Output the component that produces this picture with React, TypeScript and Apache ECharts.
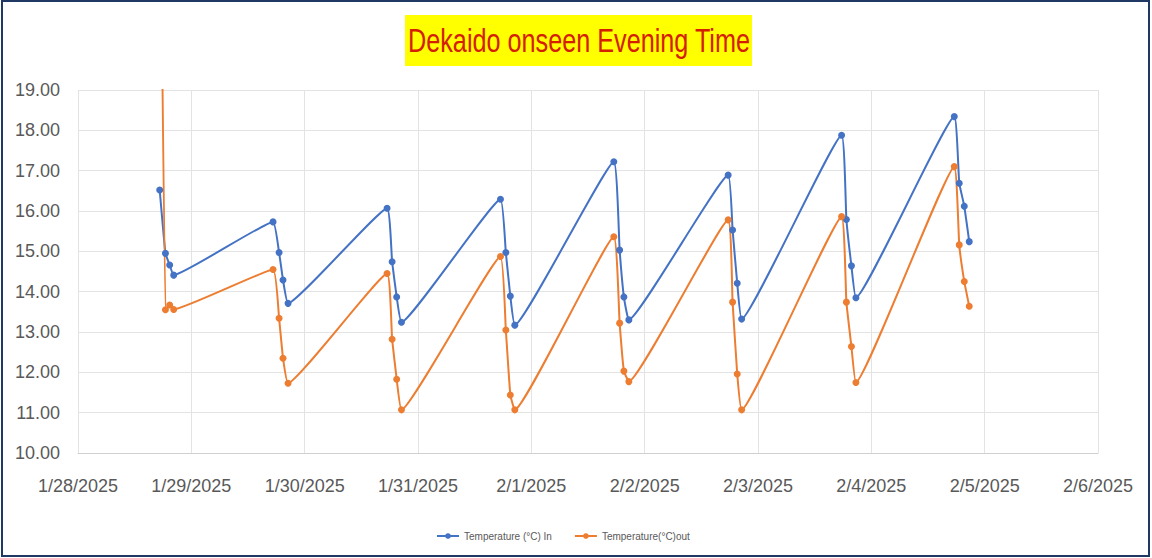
import React, { useEffect, useRef } from "react";
import * as echarts from "echarts";

const titleText = "Dekaido onseen Evening Time";
const seriesNames = ["Temperature (°C) In", "Temperature(°C)out"];

const readingTimes = [
  "2025-01-28T17:18", "2025-01-28T18:31", "2025-01-28T19:25", "2025-01-28T20:16",
  "2025-01-29T17:18", "2025-01-29T18:35", "2025-01-29T19:25", "2025-01-29T20:29",
  "2025-01-30T17:27", "2025-01-30T18:31", "2025-01-30T19:29", "2025-01-30T20:30",
  "2025-01-31T17:28", "2025-01-31T18:36", "2025-01-31T19:33", "2025-01-31T20:30",
  "2025-02-01T17:28", "2025-02-01T18:42", "2025-02-01T19:36", "2025-02-01T20:39",
  "2025-02-02T17:41", "2025-02-02T18:37", "2025-02-02T19:36", "2025-02-02T20:32",
  "2025-02-03T17:42", "2025-02-03T18:43", "2025-02-03T19:47", "2025-02-03T20:44",
  "2025-02-04T17:34", "2025-02-04T18:37", "2025-02-04T19:41", "2025-02-04T20:44",
];

const tempIn = [
  16.52, 14.95, 14.66, 14.41,
  15.73, 14.97, 14.29, 13.71,
  16.07, 14.74, 13.87, 13.24,
  16.29, 14.97, 13.89, 13.17,
  17.22, 15.03, 13.87, 13.30,
  16.89, 15.53, 14.21, 13.32,
  17.88, 15.79, 14.64, 13.85,
  18.34, 16.69, 16.12, 15.24,
];

const tempOut = [
  26.0, 13.55, 13.67, 13.56,
  14.55, 13.34, 12.35, 11.73,
  14.45, 12.82, 11.83, 11.07,
  14.87, 13.05, 11.44, 11.07,
  15.36, 13.22, 12.03, 11.77,
  15.78, 13.74, 11.96, 11.07,
  15.86, 13.74, 12.64, 11.75,
  17.10, 15.16, 14.25, 13.64,
];

const axisStart = "2025-01-28T00:00";
const axisEnd = "2025-02-06T00:00";
const yMin = 10;
const yMax = 19;

const DAY = 86400000;
const toMs = (s: string) => Date.parse(s + ":00Z");

export default function App() {
  const ref = useRef<HTMLDivElement>(null);

  useEffect(() => {
    document.body.style.margin = "0";
    if (!ref.current) return;
    const chart = echarts.init(ref.current, null, { renderer: "svg" });
    const xs = readingTimes.map(toMs);
    const font = "Liberation Sans";

    const lineSeries = (name: string, color: string, vals: number[]) => ({
      name,
      type: "line",
      smooth: 0.1,
      symbol: "circle",
      symbolSize: 7,
      clip: true,
      color,
      lineStyle: { width: 2, color },
      itemStyle: { color },
      data: xs.map((x, i) => [x, vals[i]]),
    });

    chart.setOption({
      animation: false,
      backgroundColor: "#ffffff",
      textStyle: { fontFamily: font },
      grid: { left: 78, right: 54, top: 90, bottom: 105, containLabel: false },
      graphic: [
        {
          type: "rect",
          shape: { x: 2, y: 1, width: 1147, height: 555 },
          style: { fill: "none", stroke: "#1F3864", lineWidth: 2 },
          silent: true,
        },
        {
          type: "rect",
          shape: { x: 405, y: 15, width: 347, height: 51 },
          style: { fill: "#FFFF00" },
          silent: true,
        },
        {
          type: "text",
          x: 579,
          y: 41,
          style: {
            text: titleText,
            fill: "#D42000",
            font: "26px 'Liberation Sans'",
            align: "center",
            verticalAlign: "middle",
          },
          scaleX: 0.97,
          scaleY: 1.25,
          silent: true,
        },
      ],
      legend: {
        bottom: 12,
        left: 431,
        itemWidth: 22,
        itemHeight: 7,
        itemGap: 22,
        textStyle: { fontSize: 10, color: "#595959", fontFamily: font },
        data: seriesNames,
      },
      xAxis: {
        type: "value",
        min: toMs(axisStart),
        max: toMs(axisEnd),
        interval: DAY,
        axisLine: { show: true, lineStyle: { color: "#D0D0D0" } },
        axisTick: { show: false },
        splitLine: { show: true, lineStyle: { color: "#E3E3E3" } },
        axisLabel: {
          margin: 24,
          fontSize: 18,
          color: "#595959",
          fontFamily: font,
          formatter: (v: number) => {
            const d = new Date(v);
            return `${d.getUTCMonth() + 1}/${d.getUTCDate()}/${d.getUTCFullYear()}`;
          },
        },
      },
      yAxis: {
        type: "value",
        min: yMin,
        max: yMax,
        interval: 1,
        axisLine: { show: false },
        axisTick: { show: false },
        splitLine: { show: true, lineStyle: { color: "#E3E3E3" } },
        axisLabel: {
          margin: 18,
          fontSize: 18,
          color: "#595959",
          fontFamily: font,
          formatter: (v: number) => v.toFixed(2),
        },
      },
      series: [
        lineSeries(seriesNames[0], "#4472C4", tempIn),
        lineSeries(seriesNames[1], "#ED7D31", tempOut),
      ],
    });

    return () => chart.dispose();
  }, []);

  return (
    <div
      ref={ref}
      style={{ position: "absolute", left: 0, top: 0, width: 1152, height: 558 }}
    />
  );
}
